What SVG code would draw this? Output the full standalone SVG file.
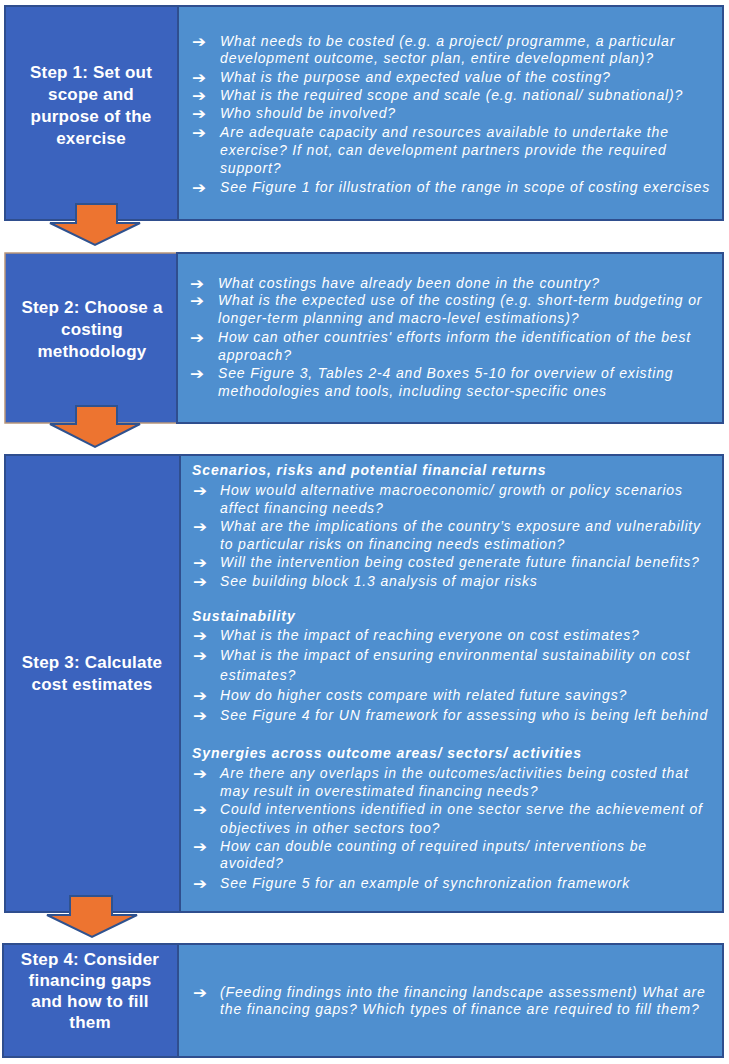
<svg xmlns="http://www.w3.org/2000/svg" width="729" height="1064" viewBox="0 0 729 1064">
<style>
.bg{fill:#ffffff}
.lbox{fill:#3B63BE;stroke:#2F4E8E;stroke-width:2}
.rbox{fill:#4F8FCF;stroke:#2F4E8E;stroke-width:2}
.title{font-family:"Liberation Sans",Arial,sans-serif;font-weight:bold;font-size:17px;fill:#ffffff;text-anchor:middle;letter-spacing:0.2px}
.t{font-family:"Liberation Sans",Arial,sans-serif;font-style:italic;font-size:14px;fill:#ffffff;letter-spacing:0.85px}
.h{font-family:"Liberation Sans",Arial,sans-serif;font-style:italic;font-weight:bold;font-size:14px;fill:#ffffff;letter-spacing:0.9px}
.b{font-family:"DejaVu Sans",sans-serif;font-weight:bold;font-size:14px;fill:#ffffff}
.arr{fill:#ED7430;stroke:#2F528F;stroke-width:2;stroke-linejoin:miter}
</style>
<rect class="bg" x="0" y="0" width="729" height="1064"/>

<g id="step1">
<rect class="lbox" x="5" y="6" width="173" height="214"/>
<rect class="rbox" x="178" y="6" width="545" height="214"/>
<text class="title" x="91" y="78">Step 1: Set out</text>
<text class="title" x="91" y="100">scope and</text>
<text class="title" x="91" y="122">purpose of the</text>
<text class="title" x="91" y="144">exercise</text>
<text class="b" transform="translate(192,46.5) scale(1.2,1.1)">➔</text><text class="t" x="220" y="46">What needs to be costed (e.g. a project/ programme, a particular</text>
<text class="t" x="220" y="63">development outcome, sector plan, entire development plan)?</text>
<text class="b" transform="translate(192,82.5) scale(1.2,1.1)">➔</text><text class="t" x="220" y="82">What is the purpose and expected value of the costing?</text>
<text class="b" transform="translate(192,100.5) scale(1.2,1.1)">➔</text><text class="t" x="220" y="100">What is the required scope and scale (e.g. national/ subnational)?</text>
<text class="b" transform="translate(192,118.5) scale(1.2,1.1)">➔</text><text class="t" x="220" y="118">Who should be involved?</text>
<text class="b" transform="translate(192,137.5) scale(1.2,1.1)">➔</text><text class="t" x="220" y="137">Are adequate capacity and resources available to undertake the</text>
<text class="t" x="220" y="155">exercise? If not, can development partners provide the required</text>
<text class="t" x="220" y="173">support?</text>
<text class="b" transform="translate(192,192.5) scale(1.2,1.1)">➔</text><text class="t" x="220" y="192">See Figure 1 for illustration of the range in scope of costing exercises</text>
</g>

<g id="step2">
<rect x="5" y="253" width="172" height="170" fill="#3B63BE" stroke="#B9967A" stroke-width="1.5"/>
<rect class="rbox" x="177" y="253" width="546" height="170"/>
<text class="title" x="92" y="313">Step 2: Choose a</text>
<text class="title" x="92" y="335">costing</text>
<text class="title" x="92" y="357">methodology</text>
<text class="b" transform="translate(190,288.5) scale(1.2,1.1)">➔</text><text class="t" x="218" y="288">What costings have already been done in the country?</text>
<text class="b" transform="translate(190,305.5) scale(1.2,1.1)">➔</text><text class="t" x="218" y="305">What is the expected use of the costing (e.g. short-term budgeting or</text>
<text class="t" x="218" y="323">longer-term planning and macro-level estimations)?</text>
<text class="b" transform="translate(190,342.5) scale(1.2,1.1)">➔</text><text class="t" x="218" y="342">How can other countries' efforts inform the identification of the best</text>
<text class="t" x="218" y="360">approach?</text>
<text class="b" transform="translate(190,378.5) scale(1.2,1.1)">➔</text><text class="t" x="218" y="378">See Figure 3, Tables 2-4 and Boxes 5-10 for overview of existing</text>
<text class="t" x="218" y="396">methodologies and tools, including sector-specific ones</text>
</g>

<g id="step3">
<rect class="lbox" x="5" y="455" width="175" height="457"/>
<rect class="rbox" x="180" y="455" width="543" height="457"/>
<text class="title" x="92" y="668">Step 3: Calculate</text>
<text class="title" x="92" y="690">cost estimates</text>
<text class="h" x="192" y="475">Scenarios, risks and potential financial returns</text>
<text class="b" transform="translate(193,495.5) scale(1.2,1.1)">➔</text><text class="t" x="220" y="495">How would alternative macroeconomic/ growth or policy scenarios</text>
<text class="t" x="220" y="513">affect financing needs?</text>
<text class="b" transform="translate(193,531.5) scale(1.2,1.1)">➔</text><text class="t" x="220" y="531">What are the implications of the country’s exposure and vulnerability</text>
<text class="t" x="220" y="549">to particular risks on financing needs estimation?</text>
<text class="b" transform="translate(193,567.5) scale(1.2,1.1)">➔</text><text class="t" x="220" y="567">Will the intervention being costed generate future financial benefits?</text>
<text class="b" transform="translate(193,586.5) scale(1.2,1.1)">➔</text><text class="t" x="220" y="586">See building block 1.3 analysis of major risks</text>
<text class="h" x="192" y="621">Sustainability</text>
<text class="b" transform="translate(193,640.5) scale(1.2,1.1)">➔</text><text class="t" x="220" y="640">What is the impact of reaching everyone on cost estimates?</text>
<text class="b" transform="translate(193,660.5) scale(1.2,1.1)">➔</text><text class="t" x="220" y="660">What is the impact of ensuring environmental sustainability on cost</text>
<text class="t" x="220" y="680">estimates?</text>
<text class="b" transform="translate(193,700.5) scale(1.2,1.1)">➔</text><text class="t" x="220" y="700">How do higher costs compare with related future savings?</text>
<text class="b" transform="translate(193,720.5) scale(1.2,1.1)">➔</text><text class="t" x="220" y="720">See Figure 4 for UN framework for assessing who is being left behind</text>
<text class="h" x="192" y="758">Synergies across outcome areas/ sectors/ activities</text>
<text class="b" transform="translate(193,778.5) scale(1.2,1.1)">➔</text><text class="t" x="220" y="778">Are there any overlaps in the outcomes/activities being costed that</text>
<text class="t" x="220" y="796">may result in overestimated financing needs?</text>
<text class="b" transform="translate(193,814.5) scale(1.2,1.1)">➔</text><text class="t" x="220" y="814">Could interventions identified in one sector serve the achievement of</text>
<text class="t" x="220" y="833">objectives in other sectors too?</text>
<text class="b" transform="translate(193,851.5) scale(1.2,1.1)">➔</text><text class="t" x="220" y="851">How can double counting of required inputs/ interventions be</text>
<text class="t" x="220" y="868">avoided?</text>
<text class="b" transform="translate(193,888.5) scale(1.2,1.1)">➔</text><text class="t" x="220" y="888">See Figure 5 for an example of synchronization framework</text>
</g>

<g id="step4">
<rect class="lbox" x="3" y="944" width="175" height="113"/>
<rect class="rbox" x="178" y="944" width="545" height="113"/>
<text class="title" x="90" y="965">Step 4: Consider</text>
<text class="title" x="90" y="986">financing gaps</text>
<text class="title" x="90" y="1007">and how to fill</text>
<text class="title" x="90" y="1028">them</text>
<text class="b" transform="translate(193,997.5) scale(1.2,1.1)">➔</text><text class="t" x="220" y="997">(Feeding findings into the financing landscape assessment) What are</text>
<text class="t" x="220" y="1014">the financing gaps? Which types of finance are required to fill them?</text>
</g>

<g id="connectors">
<path class="arr" d="M76,204 H117 V223 H140 L95,245 L50,223 H76 Z"/>
<path class="arr" d="M76,406 H117 V424 H140 L95,447 L50,424 H76 Z"/>
<path class="arr" d="M70,896 H112 V915 H137 L92,937 L47,915 H70 Z"/>
</g>
</svg>
